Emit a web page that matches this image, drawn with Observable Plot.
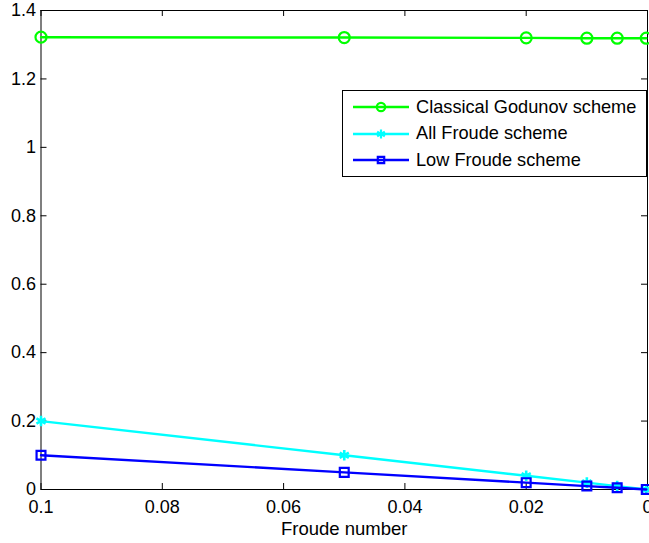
<!DOCTYPE html>
<html>
<head>
<meta charset="utf-8">
<script src="https://cdn.jsdelivr.net/npm/d3@7"></script>
<script src="https://cdn.jsdelivr.net/npm/@observablehq/plot@0.6"></script>
<style>
  html, body { margin: 0; padding: 0; background: #fff; overflow: hidden; }
  #wrap { position: relative; width: 649px; height: 543px; font-family: "Liberation Sans", Arial, Helvetica, sans-serif; }
  #legend { position: absolute; left: 342px; top: 90px; width: 303px; height: 85px; border: 1px solid #000; background: #fff; box-sizing: content-box; }
  .row { position: absolute; left: 0; height: 26px; display: flex; align-items: center; font-size: 18.2px; color: #000; white-space: nowrap; }
  .row svg { margin-left: 9px; margin-right: 6px; }
</style>
</head>
<body>
<div id="wrap"></div>
<script>
// Data
const froude = [0.1, 0.05, 0.02, 0.01, 0.005, 0.0002];
const godunov = [1.322, 1.321, 1.320, 1.319, 1.319, 1.319];
const allFroude = [0.2, 0.1, 0.04, 0.02, 0.01, 0.0004];
const lowFroude = [0.1, 0.05, 0.02, 0.01, 0.005, 0.0002];
const seriesNames = ["Classical Godunov scheme", "All Froude scheme", "Low Froude scheme"];
const seriesColors = ["#00ff00", "#00ffff", "#0000ff"];
const seriesSymbols = ["circle", "asterisk", "square"];
const xTicks = [0.1, 0.08, 0.06, 0.04, 0.02, 0];
const xTickLabels = ["0.1", "0.08", "0.06", "0.04", "0.02", "0"];
const yTicks = [0, 0.2, 0.4, 0.6, 0.8, 1, 1.2, 1.4];
const yTickLabels = ["0", "0.2", "0.4", "0.6", "0.8", "1", "1.2", "1.4"];
const xTitle = "Froude number";

const allSeries = [godunov, allFroude, lowFroude];
const rows = [];
allSeries.forEach((vals, s) => vals.forEach((v, i) => rows.push({fr: froude[i], v, s: seriesNames[s]})));

const marginLeft = 40.5, marginRight = 2, marginTop = 10, marginBottom = 54;
const W = 649, H = 543;
const innerH = H - marginTop - marginBottom;
const innerW = W - marginLeft - marginRight;
const tickLen = 6;
const FS = 18;

const marks = [];
seriesNames.forEach((name, s) => {
  const d = rows.filter(r => r.s === name);
  marks.push(Plot.line(d, {x: "fr", y: "v", stroke: seriesColors[s], strokeWidth: 2.4}));
  if (seriesSymbols[s] === "circle") {
    marks.push(Plot.dot(d, {x: "fr", y: "v", r: 5.5, stroke: seriesColors[s], strokeWidth: 2.2, fill: "none"}));
  } else if (seriesSymbols[s] === "asterisk") {
    marks.push(Plot.dot(d, {x: "fr", y: "v", r: 5, symbol: "asterisk", stroke: seriesColors[s], strokeWidth: 2.6}));
  } else {
    marks.push(Plot.dot(d, {x: "fr", y: "v", r: 5, symbol: "square", stroke: seriesColors[s], strokeWidth: 2.2, fill: "none"}));
  }
});

const chart = Plot.plot({
  width: W,
  height: H,
  marginLeft, marginRight, marginTop, marginBottom,
  style: {fontFamily: '"Liberation Sans", Arial, Helvetica, sans-serif', fontSize: FS + "px", background: "#fff", overflow: "visible"},
  x: {domain: [0.1, 0], type: "linear"},
  y: {domain: [0, 1.4]},
  marks: [
    Plot.frame({stroke: "#000", strokeWidth: 1}),
    Plot.ruleX(xTicks, {x: d => d, insetTop: innerH - tickLen, stroke: "#000"}),
    Plot.ruleX(xTicks, {x: d => d, insetBottom: innerH - tickLen, stroke: "#000"}),
    Plot.ruleY(yTicks, {y: d => d, insetRight: innerW - tickLen, stroke: "#000"}),
    Plot.ruleY(yTicks, {y: d => d, insetLeft: innerW - tickLen, stroke: "#000"}),
    Plot.axisX({ticks: xTicks, tickSize: 0, tickPadding: 11, tickFormat: d => xTickLabels[xTicks.indexOf(d)], label: null, fill: "#000", fontSize: FS}),
    Plot.axisY({ticks: yTicks, tickSize: 0, tickPadding: 5, tickFormat: d => yTickLabels[yTicks.indexOf(d)], label: null, fill: "#000", fontSize: FS}),
    Plot.text([xTitle], {text: d => d, frameAnchor: "bottom", lineAnchor: "bottom", dx: 0, dy: 45, fontSize: 18.5, fill: "#000"}),
    ...marks
  ]
});

const wrap = document.getElementById("wrap");
wrap.appendChild(chart);

const legend = document.createElement("div");
legend.id = "legend";
seriesNames.forEach((name, s) => {
  const row = document.createElement("div");
  row.className = "row";
  row.style.top = (3 + s * 26.7) + "px";
  const sym = d3.symbol(s === 0 ? d3.symbolCircle : s === 1 ? d3.symbolAsterisk : d3.symbolSquare,
    s === 0 ? Math.PI * 4.2 * 4.2 : s === 1 ? Math.PI * 4.2 * 4.2 : Math.PI * 3.6 * 3.6)();
  row.innerHTML = `<svg width="58" height="14" viewBox="0 0 58 14">
    <line x1="1" x2="57" y1="7" y2="7" stroke="${seriesColors[s]}" stroke-width="2.3"/>
    <path d="${sym}" transform="translate(29,7)" fill="none" stroke="${seriesColors[s]}" stroke-width="2.2"/>
  </svg><span>${name}</span>`;
  legend.appendChild(row);
});
wrap.appendChild(legend);
</script>
</body>
</html>
